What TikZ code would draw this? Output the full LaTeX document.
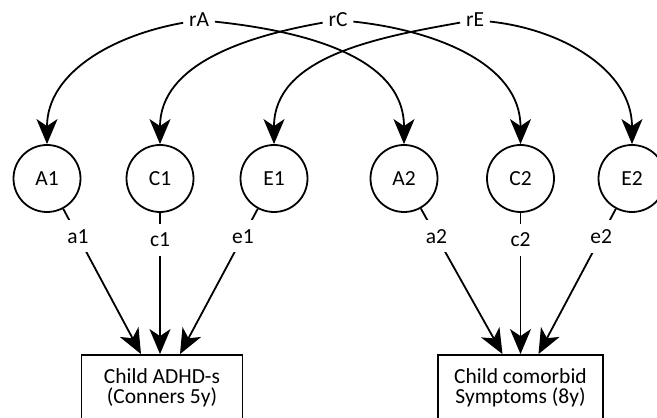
\documentclass[tikz,border=0pt]{standalone}
\usepackage{fontspec}
\setmainfont{Carlito}
\usetikzlibrary{arrows.meta}

\begin{document}
\begin{tikzpicture}[x=1pt, y=1pt, line width=1.8pt,
  font=\fontsize{21.5}{20.5}\selectfont,
  >={Stealth[length=25pt, width=21pt, inset=7pt]},
  latent/.style={circle, draw, minimum size=67pt, inner sep=0pt},
  observed/.style={rectangle, draw, minimum width=161pt, minimum height=66pt, align=center},
  path label/.style={fill=white, inner xsep=5pt, inner ysep=9pt}]
\useasboundingbox (0,0) rectangle (657,418);
% latent factors
\node[latent] (A1) at (47,239.5) {A1};
\node[latent] (C1) at (160,239.5) {C1};
\node[latent] (E1) at (274,239.5) {E1};
\node[latent] (A2) at (404,239.5) {A2};
\node[latent] (C2) at (520.5,239.5) {C2};
\node[latent] (E2) at (632,239.5) {E2};
% observed measures
\node[observed] (ADHD) at (162,30) {Child ADHD-s\\(Conners 5y)};
\node[observed, minimum width=165pt] (comorbid) at (520.5,30) {Child comorbid\\Symptoms (8y)};
% correlations between the two occasions
\node[path label, inner ysep=2pt] (rA) at (199,398) {rA};
\node[path label, inner ysep=2pt] (rC) at (338,398) {rC};
\node[path label, inner ysep=2pt] (rE) at (475,398) {rE};
\draw[->] (rA) to[out=190, in=90] (A1);
\draw[->] (rA) to[out=-6, in=90] (A2);
\draw[->] (rC) to[out=190, in=90] (C1);
\draw[->] (rC) to[out=-6, in=90] (C2);
\draw[->] (rE) to[out=190, in=90] (E1);
\draw[->] (rE) to[out=-6, in=90] (E2);
% loadings
\draw[->] (A1) -- node[path label, pos=0.19] {a1} ([xshift=-21pt]ADHD.north);
\draw[->] (C1) -- node[path label, pos=0.19] {c1} ([xshift=-2pt]ADHD.north);
\draw[->] (E1) -- node[path label, pos=0.19] {e1} ([xshift=18pt]ADHD.north);
\draw[->] (A2) -- node[path label, pos=0.19] {a2} ([xshift=-18pt]comorbid.north);
\draw[->] (C2) -- node[path label, pos=0.19] {c2} (comorbid.north);
\draw[->] (E2) -- node[path label, pos=0.19] {e2} ([xshift=18pt]comorbid.north);
\end{tikzpicture}
\end{document}
